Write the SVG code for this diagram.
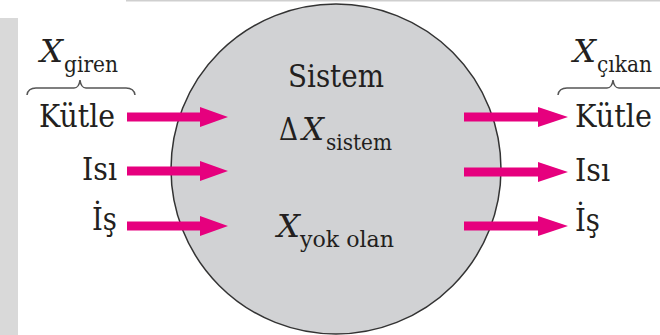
<svg xmlns="http://www.w3.org/2000/svg" width="660" height="335" viewBox="0 0 660 335">
<style>
text{font-family:'DejaVu Serif',serif;fill:#231f20}
.m{font-size:31px}
.s{font-size:22px}
.i{font-style:italic}
.arr{fill:#e6007e}
.brace{fill:none;stroke:#555;stroke-width:1.5}
</style>
<rect width="660" height="335" fill="#fff"/>
<rect x="0" y="18" width="18" height="317" fill="#d9d9d9"/>
<line x1="126" y1="0.75" x2="660" y2="0.75" stroke="#cfcfcf" stroke-width="1.5"/>
<g id="system">
<circle cx="336" cy="169" r="165" fill="#d1d2d4" stroke="#333" stroke-width="1.5"/>
<text class="m" x="288" y="87" textLength="96" lengthAdjust="spacingAndGlyphs">Sistem</text>
<text class="m" x="279" y="140" textLength="19" lengthAdjust="spacingAndGlyphs">Δ</text>
<text class="m i" x="302" y="140" textLength="22" lengthAdjust="spacingAndGlyphs">X</text>
<text class="s" x="326" y="150" textLength="66" lengthAdjust="spacingAndGlyphs">sistem</text>
<text class="m i" x="277" y="237" textLength="23" lengthAdjust="spacingAndGlyphs">X</text>
<text class="s" x="300" y="247" textLength="94" lengthAdjust="spacingAndGlyphs">yok olan</text>
</g>
<g id="inputs">
<text class="m i" x="40" y="62" textLength="23" lengthAdjust="spacingAndGlyphs">X</text>
<text class="s" x="64" y="72" textLength="54" lengthAdjust="spacingAndGlyphs">giren</text>
<path class="brace" d="M27,95 Q28,88 36,88 L74,88 Q79,88 80,80 Q81,88 86,88 L126,88 Q134,88 135,95"/>
<text class="m" x="39" y="127" textLength="76" lengthAdjust="spacingAndGlyphs">Kütle</text>
<text class="m" x="82" y="180" textLength="35" lengthAdjust="spacingAndGlyphs">Isı</text>
<text class="m" x="92" y="230" textLength="25" lengthAdjust="spacingAndGlyphs">İş</text>
</g>
<g id="outputs">
<text class="m i" x="573" y="62" textLength="23" lengthAdjust="spacingAndGlyphs">X</text>
<text class="s" x="597" y="72" textLength="55" lengthAdjust="spacingAndGlyphs">çıkan</text>
<path class="brace" d="M558,95 Q559,88 567,88 L607,88 Q612,88 613,80 Q614,88 619,88 L662,88"/>
<text class="m" x="575" y="127" textLength="77" lengthAdjust="spacingAndGlyphs">Kütle</text>
<text class="m" x="575" y="181" textLength="35" lengthAdjust="spacingAndGlyphs">Isı</text>
<text class="m" x="575" y="231" textLength="25" lengthAdjust="spacingAndGlyphs">İş</text>
</g>
<g id="connectors">
<polygon class="arr" points="127,112.5 200,112.5 200,107 228,117 200,127 200,121.5 127,121.5"/>
<polygon class="arr" points="127,166.5 200,166.5 200,161 228,171 200,181 200,175.5 127,175.5"/>
<polygon class="arr" points="127,221.5 200,221.5 200,216 228,226 200,236 200,230.5 127,230.5"/>
<polygon class="arr" points="464,112.5 538,112.5 538,107 568,117 538,127 538,121.5 464,121.5"/>
<polygon class="arr" points="464,167.5 538,167.5 538,162 568,172 538,182 538,176.5 464,176.5"/>
<polygon class="arr" points="464,221.5 538,221.5 538,216 568,226 538,236 538,230.5 464,230.5"/>
</g>
</svg>
